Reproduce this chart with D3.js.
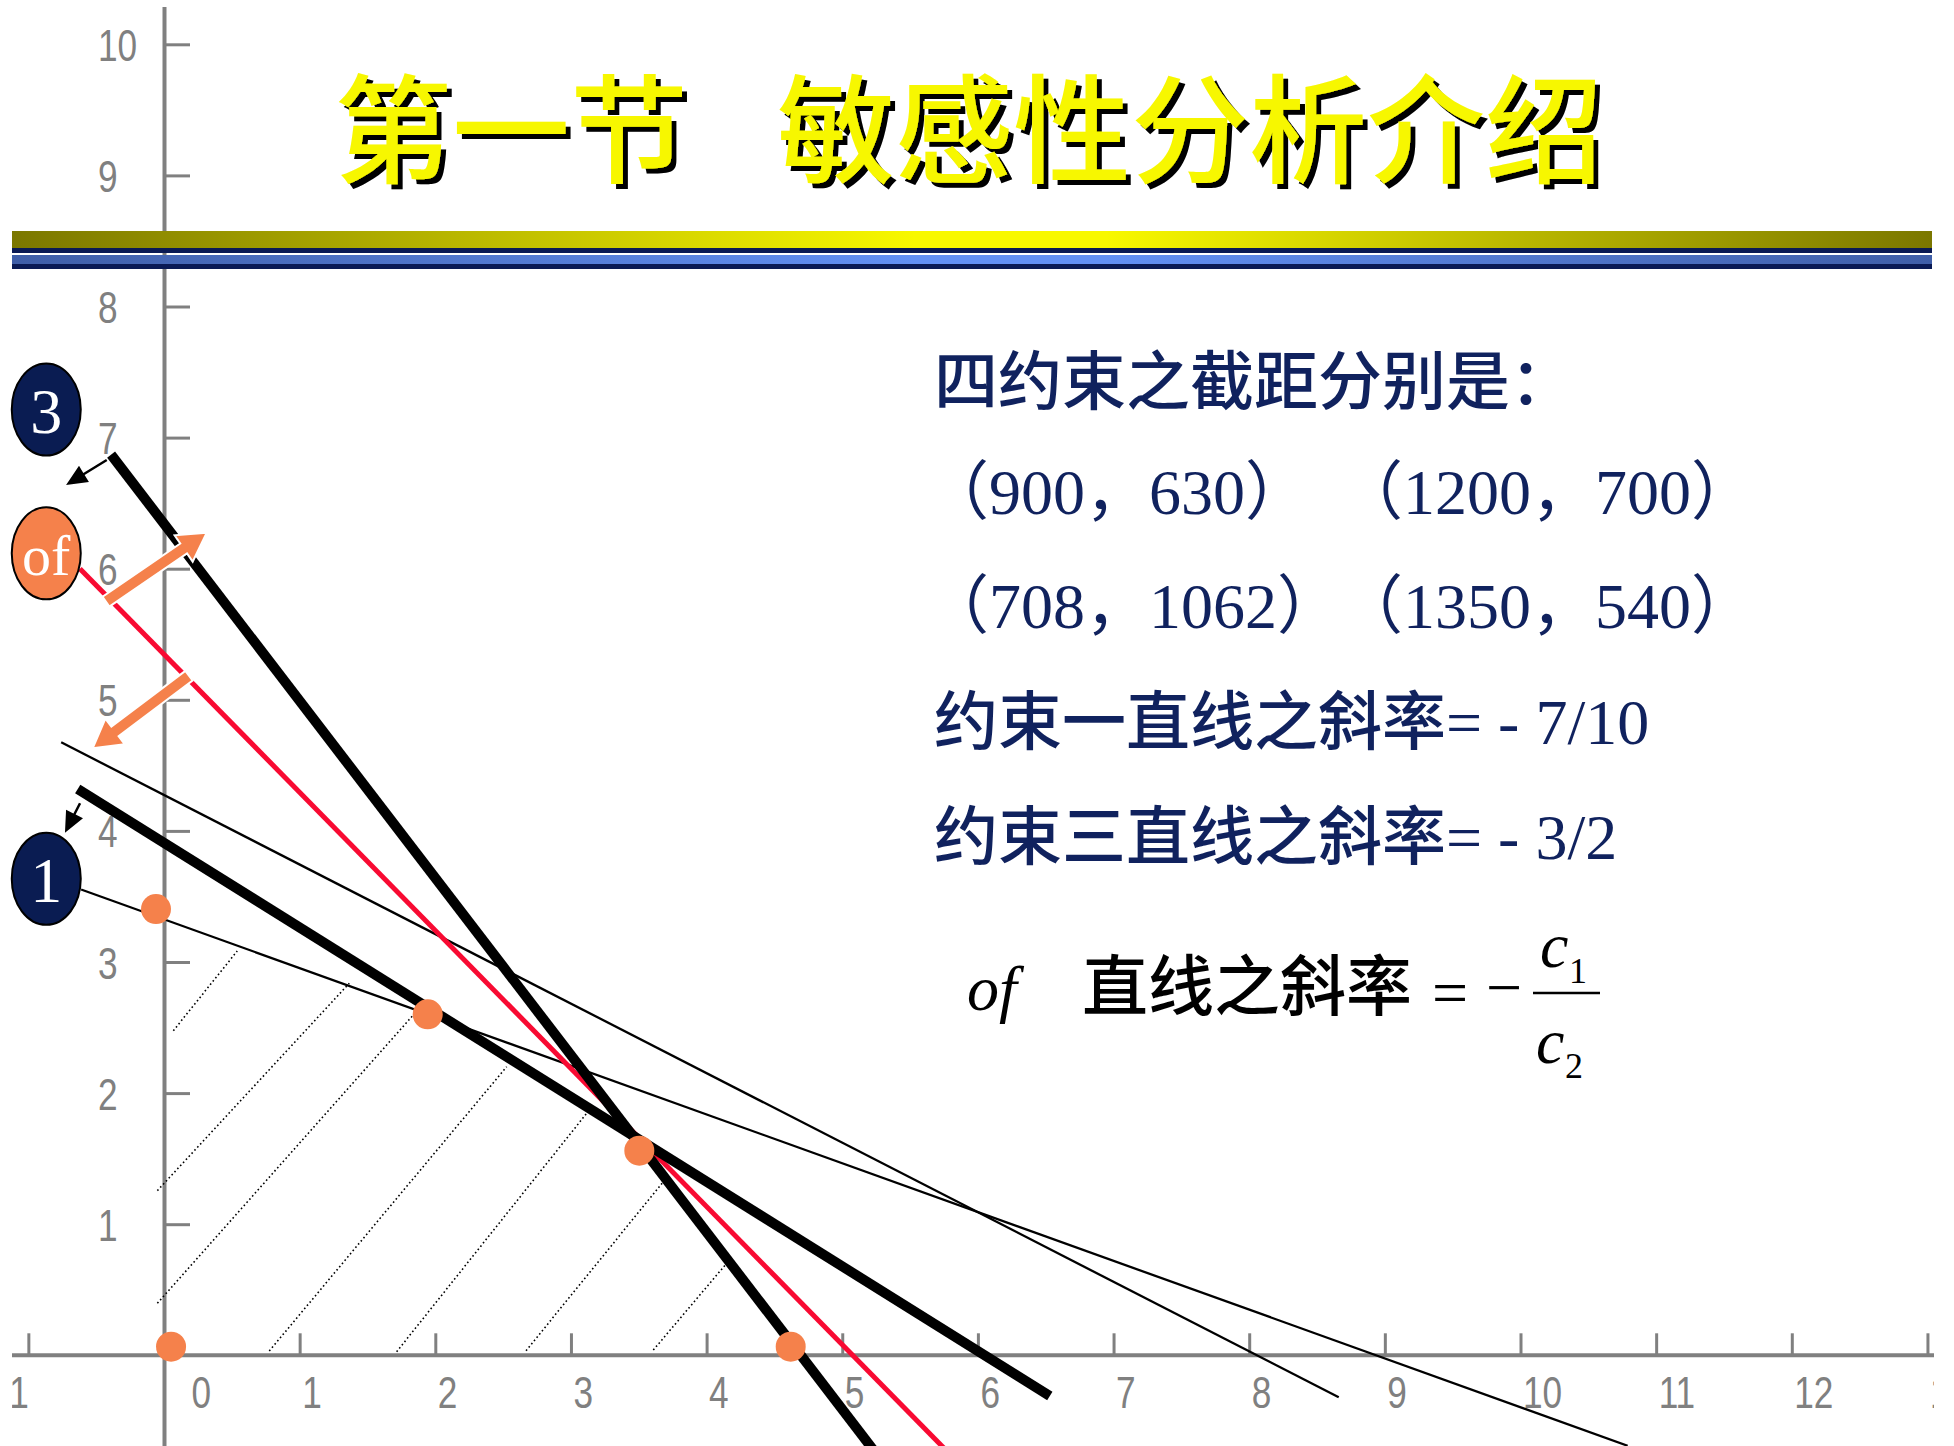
<!DOCTYPE html>
<html>
<head>
<meta charset="utf-8">
<script src="https://cdn.jsdelivr.net/npm/d3@7"></script>
<style>
  html, body { margin: 0; padding: 0; background: #fff; }
  svg { display: block; }
</style>
</head>
<body>
<div id="chart"></div>
<script>
// axis ticks
const xTicks = d3.range(-1, 14);
const yTicks = d3.range(1, 11);

// lines in data units: [x1, y1, x2, y2]
const thinLines = [
  [-0.758, 4.676, 8.66, -0.32],
  [-0.611, 3.553, 10.79, -0.69]
];
const objectiveLine = [-0.62, 6.0, 5.78, -0.74];
const thickLines = [
  [-0.39, 6.87, 5.25, -0.75],   // constraint 3
  [-0.636, 4.32, 6.53, -0.31]   // constraint 1
];
// dotted hatching inside the feasible region
const hatchLines = [
  [0.069, 2.476, 0.540, 3.084],
  [-0.049, 1.256, 1.366, 2.838],
  [-0.049, 0.397, 1.838, 2.596],
  [0.776, 0.033, 2.526, 2.201],
  [1.715, 0.027, 3.116, 1.846],
  [2.669, 0.035, 3.681, 1.324],
  [3.607, 0.040, 4.148, 0.702]
];
// corner points of the region
const cornerX = [-0.059, 1.944, 3.504, 0.052, 4.620];
const cornerY = [3.404, 2.601, 1.561, 0.066, 0.066];

// small black arrows (line shifts) and orange arrows (objective rotation)
const shiftArrows = [
  [-0.422, 6.829, -0.722, 6.639],
  [-0.619, 4.211, -0.730, 3.986]
];
const rotateArrows = [
  [-0.428, 5.748, 0.315, 6.275],
  [0.184, 5.184, -0.526, 4.630]
];

// labelled badges
const badgeLabels = ["3", "of", "1"];
const badgeY = [7.214, 6.117, 3.635];
const badgeX = -0.868;

// texts
const titleParts = ["第一节", "敏感性分析介绍"];
const interceptHead = "四约束之截距分别是：";
const intercepts = [[900, 630], [1200, 700], [708, 1062], [1350, 540]];
const slopeNotes = ["约束一直线之斜率= - 7/10", "约束三直线之斜率= - 3/2"];

const W = 1954, H = 1446;
const gray = "#808080";
const orange = "#f5814b";
const navy = "#0a1c52";
const textNavy = "#10225e";
const serif = "'Liberation Serif', 'Noto Sans CJK SC', serif";
const cjk = "'Noto Sans CJK SC', sans-serif";

const svg = d3.select("#chart").append("svg")
    .attr("width", W)
    .attr("height", H);

const defs = svg.append("defs");
defs.append("clipPath").attr("id", "clip-x")
    .append("rect").attr("x", 12).attr("y", 0).attr("width", 1922).attr("height", H);

const olive = defs.append("linearGradient").attr("id", "olive-band");
[[0, "#7b7700"], [0.47, "#f8f800"], [0.57, "#f8f800"], [1, "#7b7700"]].forEach(s =>
    olive.append("stop").attr("offset", s[0]).attr("stop-color", s[1]));
const blue = defs.append("linearGradient").attr("id", "blue-band");
[[0, "#3f5ea8"], [0.47, "#6290f4"], [0.57, "#6290f4"], [1, "#3f5ea8"]].forEach(s =>
    blue.append("stop").attr("offset", s[0]).attr("stop-color", s[1]));

// black drop shadow for the title
const shadow = defs.append("filter").attr("id", "title-shadow")
    .attr("x", "-5%").attr("y", "-10%").attr("width", "115%").attr("height", "130%");
shadow.append("feOffset").attr("in", "SourceAlpha").attr("dx", 5).attr("dy", 5).attr("result", "off");
const merge = shadow.append("feMerge");
merge.append("feMergeNode").attr("in", "off");
merge.append("feMergeNode").attr("in", "SourceGraphic");

const x = d3.scaleLinear().domain([-1, 13]).range([28.35, 1927.45]);
const y = d3.scaleLinear().domain([0, 10]).range([1355.3, 44.3]);

// x axis
const gxOuter = svg.append("g").attr("clip-path", "url(#clip-x)");
gxOuter.append("line")
    .attr("x1", 12).attr("x2", 1934)
    .attr("y1", y(0)).attr("y2", y(0))
    .attr("stroke", gray).attr("stroke-width", 4);
const gx = gxOuter.append("g")
    .attr("transform", `translate(0,${y(0)})`)
    .call(d3.axisBottom(x).tickValues(xTicks).tickSize(-22).tickFormat(d3.format("d")));
gx.attr("font-size", null).attr("font-family", null);
gx.select(".domain").remove();
gx.selectAll(".tick line").attr("stroke", gray).attr("stroke-width", 3)
    .filter(d => d === 0).remove();
gx.selectAll(".tick text")
    .attr("y", null).attr("dy", null)
    .attr("fill", gray)
    .attr("text-anchor", d => d < 0 ? "end" : "start")
    .attr("transform", d => `translate(${d === 0 ? 27 : d < 0 ? 0 : 2},53) scale(0.8,1)`)
    .style("font", "44px 'Liberation Sans', sans-serif");

// y axis
const gy = svg.append("g")
    .attr("transform", `translate(${x(0)},0)`)
    .call(d3.axisRight(y).tickValues(yTicks).tickSize(26).tickFormat(d3.format("d")));
gy.attr("font-size", null).attr("font-family", null);
gy.select(".domain").remove();
gy.append("line")
    .attr("x1", 0.5).attr("x2", 0.5)
    .attr("y1", 7).attr("y2", H)
    .attr("stroke", gray).attr("stroke-width", 4);
gy.selectAll(".tick line").attr("stroke", gray).attr("stroke-width", 3);
gy.selectAll(".tick text")
    .attr("x", null).attr("dy", null)
    .attr("fill", gray)
    .attr("text-anchor", "start")
    .attr("transform", `translate(${98 - x(0)},16) scale(0.8,1)`)
    .style("font", "44px 'Liberation Sans', sans-serif");

// helper for straight segments
function drawSegments(data, color, width, dash) {
    return svg.append("g").selectAll("line")
        .data(data)
        .join("line")
        .attr("x1", d => x(d[0])).attr("y1", d => y(d[1]))
        .attr("x2", d => x(d[2])).attr("y2", d => y(d[3]))
        .attr("stroke", color)
        .attr("stroke-width", width)
        .attr("stroke-dasharray", dash || null);
}

drawSegments(hatchLines, "#000", 1.6, "1.6 2.6");
drawSegments(thinLines, "#000", 2.3);
drawSegments([objectiveLine], "#f80a32", 5);
drawSegments(thickLines, "#000", 10);

// corner points
svg.append("g").selectAll("circle")
    .data(cornerX.map((v, i) => [v, cornerY[i]]))
    .join("circle")
    .attr("cx", d => x(d[0]))
    .attr("cy", d => y(d[1]))
    .attr("r", 15)
    .attr("fill", orange);

// arrows
function arrowPath(d, shaft, headW, headL) {
    const x1 = x(d[0]), y1 = y(d[1]), x2 = x(d[2]), y2 = y(d[3]);
    const len = Math.hypot(x2 - x1, y2 - y1);
    const ux = (x2 - x1) / len, uy = (y2 - y1) / len;
    const nx = -uy, ny = ux;
    const bx = x2 - ux * headL, by = y2 - uy * headL;
    const pts = [
        [x1 + nx * shaft / 2, y1 + ny * shaft / 2],
        [bx + nx * shaft / 2, by + ny * shaft / 2],
        [bx + nx * headW / 2, by + ny * headW / 2],
        [x2, y2],
        [bx - nx * headW / 2, by - ny * headW / 2],
        [bx - nx * shaft / 2, by - ny * shaft / 2],
        [x1 - nx * shaft / 2, y1 - ny * shaft / 2]
    ];
    return "M" + pts.map(p => p.join(",")).join("L") + "Z";
}

svg.append("g").selectAll("path")
    .data(shiftArrows)
    .join("path")
    .attr("d", d => arrowPath(d, 2.5, 19, 21))
    .attr("fill", "#000");

svg.append("g").selectAll("path")
    .data(rotateArrows)
    .join("path")
    .attr("d", d => arrowPath(d, 12, 32, 28))
    .attr("fill", orange)
    .attr("stroke", "#fff")
    .attr("stroke-width", 2);

// badges
const badges = svg.append("g").selectAll("g")
    .data(badgeLabels.map((t, i) => ({label: t, y: badgeY[i]})))
    .join("g")
    .attr("transform", d => `translate(${x(badgeX)},${y(d.y)})`);
badges.append("ellipse")
    .attr("rx", 34.5).attr("ry", 46)
    .attr("fill", d => d.label === "of" ? orange : navy)
    .attr("stroke", "#000")
    .attr("stroke-width", 2);
badges.append("text")
    .attr("text-anchor", "middle")
    .attr("y", d => d.label === "of" ? 22 : 23)
    .attr("fill", "#fff")
    .style("font-family", serif)
    .style("font-size", d => d.label === "of" ? "58px" : "64px")
    .text(d => d.label);

// title bands
const bands = svg.append("g");
bands.append("rect").attr("x", 12).attr("y", 231).attr("width", 1920).attr("height", 17).attr("fill", "url(#olive-band)");
bands.append("rect").attr("x", 12).attr("y", 248).attr("width", 1920).attr("height", 5).attr("fill", "#0a1a55");
bands.append("rect").attr("x", 12).attr("y", 255).attr("width", 1920).attr("height", 9).attr("fill", "url(#blue-band)");
bands.append("rect").attr("x", 12).attr("y", 264).attr("width", 1920).attr("height", 5).attr("fill", "#0a1a55");

// title, yellow with black shadow
const titleX = [334, 777];
svg.append("g")
    .attr("filter", "url(#title-shadow)")
    .style("font-family", cjk)
    .style("font-size", "118px")
    .style("font-weight", 500)
    .selectAll("text")
    .data(titleParts)
    .join("text")
    .attr("x", (d, i) => titleX[i])
    .attr("y", 173.6)
    .attr("fill", "#f7f700")
    .text(d => d);

// right hand notes
const notes = svg.append("g")
    .attr("fill", textNavy)
    .style("font-family", serif)
    .style("font-size", "64px")
    .style("font-weight", 500);

notes.append("text")
    .attr("x", 934).attr("y", 403.5)
    .style("font-family", cjk)
    .text(interceptHead);

const pairX = [925, 1339, 925, 1339];
const pairY = [514, 514, 628, 628];
notes.selectAll("text.pair")
    .data(intercepts)
    .join("text")
    .attr("class", "pair")
    .attr("x", (d, i) => pairX[i])
    .attr("y", (d, i) => pairY[i])
    .style("font-weight", 400)
    .text(d => `（${d[0]}，${d[1]}）`);

notes.selectAll("text.slope")
    .data(slopeNotes)
    .join("text")
    .attr("class", "slope")
    .attr("x", 934)
    .attr("y", (d, i) => [743.5, 858.5][i])
    .text(d => d);

// objective slope formula
const formula = svg.append("g").attr("fill", "#000").style("font-family", serif);
formula.append("text")
    .attr("x", 967).attr("y", 1010)
    .style("font-size", "64px").style("font-style", "italic")
    .text("of");
formula.append("text")
    .attr("x", 1082).attr("y", 1010)
    .style("font-family", cjk).style("font-size", "66px").style("font-weight", 500)
    .text("直线之斜率");
formula.append("text")
    .attr("x", 1432).attr("y", 1014)
    .style("font-size", "64px")
    .text("=");
formula.append("text")
    .attr("x", 1486).attr("y", 1009)
    .style("font-size", "64px")
    .text("\u2212");
formula.append("line")
    .attr("x1", 1533).attr("x2", 1600)
    .attr("y1", 993).attr("y2", 993)
    .attr("stroke", "#000").attr("stroke-width", 2.5);
const num = formula.append("text").attr("x", 1540).attr("y", 967).style("font-size", "64px");
num.append("tspan").style("font-style", "italic").text("c");
num.append("tspan").attr("x", 1569).attr("y", 983).style("font-size", "36px").text("1");
const den = formula.append("text").attr("x", 1536).attr("y", 1063).style("font-size", "64px");
den.append("tspan").style("font-style", "italic").text("c");
den.append("tspan").attr("x", 1565).attr("y", 1078).style("font-size", "36px").text("2");
</script>
</body>
</html>
